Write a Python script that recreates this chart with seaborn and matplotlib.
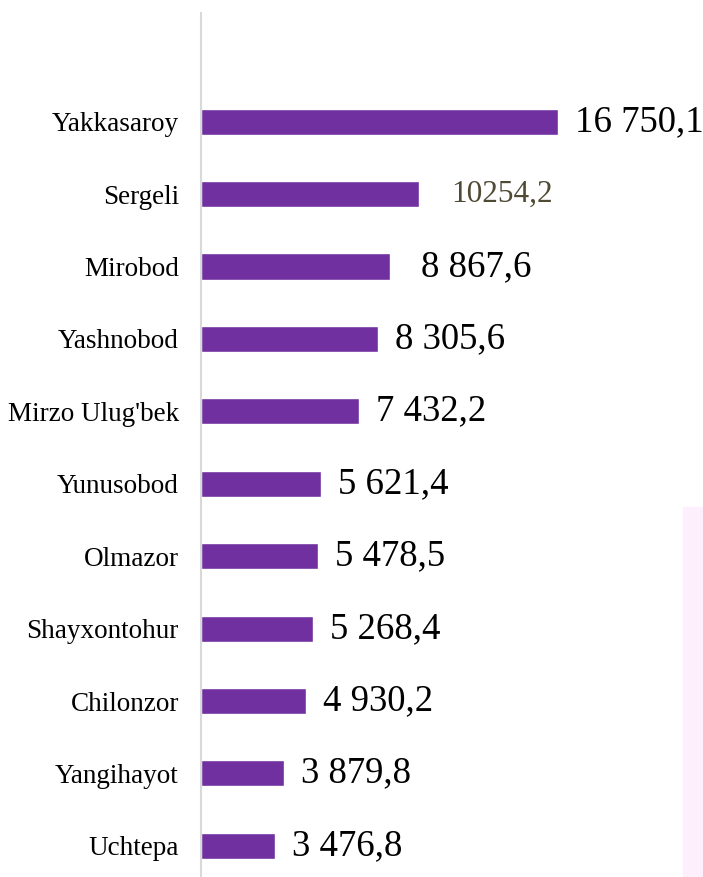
import pandas as pd
import matplotlib.pyplot as plt
import matplotlib.patches as mpatches
import seaborn as sns

districts = ["Yakkasaroy", "Sergeli", "Mirobod", "Yashnobod", "Mirzo Ulug'bek",
             "Yunusobod", "Olmazor", "Shayxontohur", "Chilonzor", "Yangihayot", "Uchtepa"]
values = [16750.1, 10254.2, 8867.6, 8305.6, 7432.2, 5621.4, 5478.5, 5268.4, 4930.2, 3879.8, 3476.8]
value_labels = ["16 750,1", "10254,2", "8 867,6", "8 305,6", "7 432,2", "5 621,4",
                "5 478,5", "5 268,4", "4 930,2", "3 879,8", "3 476,8"]

df = pd.DataFrame({"district": districts, "value": values, "label": value_labels})

sns.set_style("white")
plt.rcParams['font.family'] = ['Liberation Serif', 'DejaVu Serif']

fig = plt.figure(figsize=(7.03, 8.77), dpi=100)
# pale pink box at lower right
fig.patches.append(mpatches.Rectangle((683 / 703, 0), 20 / 703, 370 / 877,
                                      transform=fig.transFigure, color="#FDF0FC", zorder=0))
ax = fig.add_axes([201 / 703, 0, 1 - 201 / 703, 1 - 13 / 877])
ax.patch.set_alpha(0)

sns.barplot(data=df, x="value", y="district", orient="h", color="#7030A0",
            saturation=1, width=0.36, ax=ax)

ax.set_xlim(0, 23560)
ax.set_ylim(10.43, -1.5)

for i, row in df.iterrows():
    if row["district"] == "Sergeli":
        ax.annotate(row["label"], (row["value"], i), xytext=(32, 0), textcoords="offset pixels",
                    va="center", ha="left", fontsize=22.5, color="#4F4A33")
    elif row["district"] == "Mirobod":
        ax.annotate(row["label"], (row["value"], i), xytext=(31, 0), textcoords="offset pixels",
                    va="center", ha="left", fontsize=26.5, color="black")
    else:
        ax.annotate(row["label"], (row["value"], i), xytext=(17, 0), textcoords="offset pixels",
                    va="center", ha="left", fontsize=26.5, color="black")

ax.set_xlabel("")
ax.set_ylabel("")
ax.set_xticks([])
ax.tick_params(axis="y", length=0, pad=16, labelsize=19.5, labelcolor="black")
for s in ["top", "right", "bottom"]:
    ax.spines[s].set_visible(False)
ax.spines["left"].set_color("#D9D9D9")
ax.spines["left"].set_linewidth(1.5)

fig.savefig("out.png", dpi=100)
